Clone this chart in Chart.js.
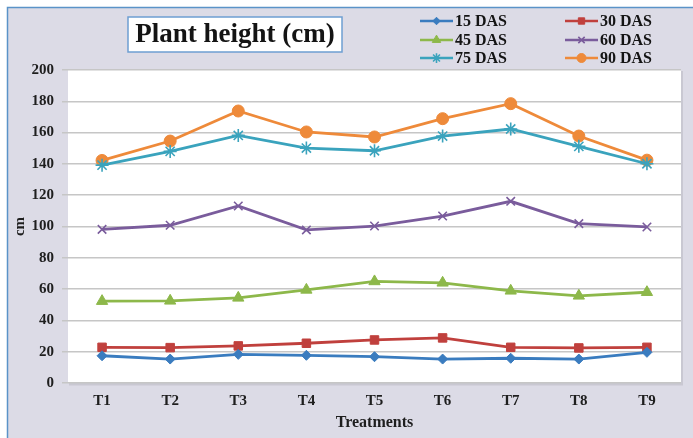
<!DOCTYPE html>
<html>
<head>
<meta charset="utf-8">
<script src="https://cdn.jsdelivr.net/npm/chart.js@4.4.1/dist/chart.umd.min.js"></script>
<style>
  html, body { margin: 0; padding: 0; background: #ffffff; }
  #wrap { width: 693px; height: 438px; position: relative; }
</style>
</head>
<body>
<div id="wrap"><canvas id="c" width="693" height="438"></canvas></div>
<script>
const categories = ['T1', 'T2', 'T3', 'T4', 'T5', 'T6', 'T7', 'T8', 'T9'];
const seriesNames = ['15 DAS', '30 DAS', '45 DAS', '60 DAS', '75 DAS', '90 DAS'];
const das15 = [17.4, 15.3, 18.3, 17.7, 16.8, 15.3, 15.8, 15.3, 19.6];
const das30 = [22.8, 22.6, 23.7, 25.4, 27.5, 28.8, 22.8, 22.4, 22.8];
const das45 = [52.3, 52.5, 54.4, 59.5, 64.9, 64.0, 58.9, 55.7, 58.0];
const das60 = [98.2, 100.8, 113.1, 97.8, 100.3, 106.7, 116.1, 101.8, 99.7];
const das75 = [139.2, 148.0, 158.2, 150.1, 148.4, 157.8, 162.3, 151.2, 140.1];
const das90 = [142.2, 154.6, 173.8, 160.4, 157.2, 168.9, 178.5, 157.8, 142.4];
const yTicks = [0, 20, 40, 60, 80, 100, 120, 140, 160, 180, 200];
const chartTitle = 'Plant height (cm)';
const xTitle = 'Treatments';
const yTitle = 'cm';

const colors = ['#3a7cbf', '#c0403d', '#8db84a', '#7a5c9c', '#3aa3bd', '#ee8a3a'];
const styles = ['rectRot', 'rect', 'triangle', 'crossRot', 'star', 'circle'];
const radii = [5, 6, 6.5, 6, 6.5, 6];
const allData = [das15, das30, das45, das60, das75, das90];

const SERIF = '"Liberation Serif", "DejaVu Serif", serif';

const datasets = allData.map((d, i) => ({
  label: seriesNames[i],
  data: d,
  borderColor: colors[i],
  backgroundColor: colors[i],
  pointBackgroundColor: colors[i],
  pointBorderColor: colors[i],
  pointStyle: styles[i],
  pointRadius: radii[i],
  pointBorderWidth: (styles[i] === 'crossRot' || styles[i] === 'star') ? 1.6 : 1,
  borderWidth: 2.8,
  tension: 0,
  fill: false
}));

const bgPlugin = {
  id: 'bg',
  beforeDraw(chart) {
    const ctx = chart.ctx;
    const a = chart.chartArea;
    ctx.save();
    ctx.fillStyle = '#ffffff';
    ctx.fillRect(0, 0, chart.width, chart.height);
    ctx.fillStyle = '#dcdbe6';
    ctx.fillRect(7, 7, chart.width - 7, chart.height - 7);
    ctx.strokeStyle = '#5a93c8';
    ctx.lineWidth = 1.5;
    ctx.beginPath();
    ctx.moveTo(7.5, chart.height);
    ctx.lineTo(7.5, 7.5);
    ctx.lineTo(chart.width, 7.5);
    ctx.stroke();
    ctx.fillStyle = '#c9c8d2';
    ctx.fillRect(a.left + 1, a.top + 1, a.right - a.left + 1, a.bottom - a.top + 1.5);
    ctx.fillStyle = '#ffffff';
    ctx.fillRect(a.left, a.top, a.right - a.left, a.bottom - a.top);
    ctx.restore();
  }
};

const overlayPlugin = {
  id: 'overlay',
  afterDraw(chart) {
    const ctx = chart.ctx;
    ctx.save();
    ctx.fillStyle = '#ffffff';
    ctx.fillRect(128, 17, 214, 35);
    ctx.strokeStyle = '#6d9fd2';
    ctx.lineWidth = 1.5;
    ctx.strokeRect(128, 17, 214, 35);
    ctx.fillStyle = '#141414';
    ctx.font = 'bold 27px ' + SERIF;
    ctx.textAlign = 'center';
    ctx.textBaseline = 'middle';
    ctx.fillText(chartTitle, 235, 35);

    const colX = [420, 565];
    const rowY = [21, 40, 58];
    ctx.font = 'bold 16px ' + SERIF;
    ctx.textAlign = 'left';
    chart.data.datasets.forEach((ds, i) => {
      const cx = colX[i % 2];
      const cy = rowY[Math.floor(i / 2)];
      ctx.strokeStyle = ds.borderColor;
      ctx.lineWidth = 2.6;
      ctx.beginPath();
      ctx.moveTo(cx, cy);
      ctx.lineTo(cx + 33, cy);
      ctx.stroke();
      ctx.fillStyle = ds.backgroundColor;
      ctx.lineWidth = ds.pointBorderWidth;
      Chart.helpers.drawPoint(ctx, {
        pointStyle: ds.pointStyle,
        radius: ds.pointRadius * 0.75,
        rotation: 0,
        borderWidth: ds.pointBorderWidth
      }, cx + 16.5, cy);
      ctx.fillStyle = '#141414';
      ctx.textBaseline = 'middle';
      ctx.fillText(ds.label, cx + 35, cy + 1);
    });
    ctx.restore();
  }
};

new Chart(document.getElementById('c'), {
  type: 'line',
  data: { labels: categories, datasets },
  plugins: [bgPlugin, overlayPlugin],
  options: {
    responsive: false,
    animation: false,
    devicePixelRatio: 1,
    layout: { padding: { left: 0, right: 12, top: 70, bottom: 0 } },
    plugins: {
      legend: { display: false },
      title: { display: false },
      tooltip: { enabled: false }
    },
    scales: {
      x: {
        type: 'category',
        offset: true,
        grid: { display: false, drawTicks: false },
        border: { display: false },
        ticks: {
          color: '#1e1e1e',
          padding: 9,
          maxRotation: 0,
          font: { family: SERIF, size: 15, weight: 'bold' }
        },
        title: {
          display: true,
          text: xTitle,
          color: '#1e1e1e',
          padding: { top: 0, bottom: 6 },
          font: { family: SERIF, size: 16, weight: 'bold' }
        },
        afterFit(scale) { scale.height = 55; }
      },
      y: {
        min: 0,
        max: 200,
        afterBuildTicks(scale) { scale.ticks = yTicks.map(v => ({ value: v })); },
        grid: {
          color: '#c6c6c6',
          lineWidth: 1.5,
          drawTicks: true,
          tickLength: 6
        },
        border: { display: false },
        ticks: {
          color: '#1e1e1e',
          padding: 8,
          font: { family: SERIF, size: 15, weight: 'bold' }
        },
        title: {
          display: true,
          text: yTitle,
          color: '#1e1e1e',
          padding: { top: 11, bottom: 0 },
          font: { family: SERIF, size: 15, weight: 'bold' }
        },
        afterFit(scale) { scale.width = 68; }
      }
    }
  }
});
</script>
</body>
</html>
